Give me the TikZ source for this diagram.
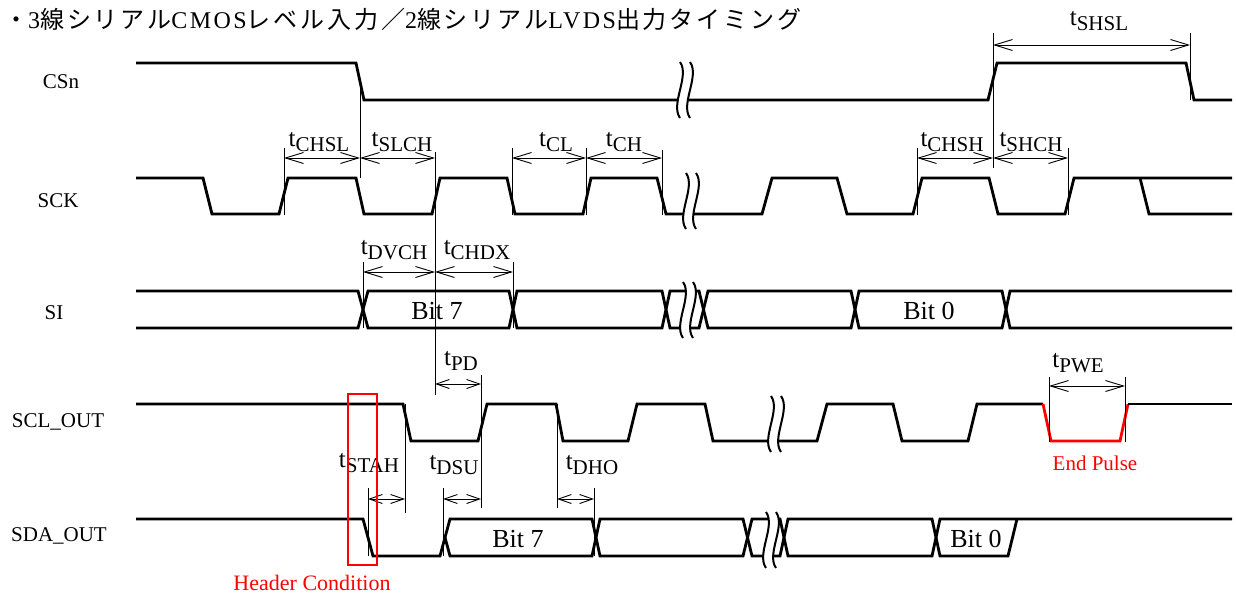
\documentclass[tikz,border=0pt]{standalone}
\usepackage{fontspec}
\setmainfont{Liberation Serif}
\newfontfamily\jpfont[LetterSpace=12]{Noto Sans CJK JP}
\newfontfamily\jplatin[LetterSpace=10]{Liberation Serif}
\usetikzlibrary{arrows.meta}
\tikzset{sig/.style={line width=2.8pt}}
\tikzset{ref/.style={line width=0.9pt}}
\tikzset{dim/.style={line width=0.9pt, {Straight Barb[length=18pt,width=11pt]}-{Straight Barb[length=18pt,width=11pt]}}}
\tikzset{sdim/.style={line width=0.9pt, {Straight Barb[length=13pt,width=9pt]}-{Straight Barb[length=13pt,width=9pt]}}}
\tikzset{lbl/.style={font=\fontsize{21}{25}\selectfont, anchor=base, inner sep=0pt}}
\tikzset{bit/.style={font=\fontsize{26}{30}\selectfont, anchor=base, inner sep=0pt}}
\tikzset{tlab/.style={anchor=base, inner sep=0pt}}
\tikzset{brk/.pic={
  \fill[white] (-6,-28) .. controls (4,-14) and (-16,14) .. (-6,28) -- (4,28) .. controls (-6,14) and (14,-14) .. (4,-28) -- cycle;
  \draw[line width=2pt] (-6,-28) .. controls (4,-14) and (-16,14) .. (-6,28);
  \draw[line width=2pt] (4,-28) .. controls (14,-14) and (-6,14) .. (4,28);
}}
\newcommand\tsub[1]{{\fontsize{25}{29}\selectfont t}\raisebox{-5pt}{\fontsize{21}{24}\selectfont #1}}

\begin{document}
\begin{tikzpicture}[x=1pt,y=-1pt]
  \useasboundingbox (0,0) rectangle (1236,597);

  \node[anchor=base west, inner sep=0pt, font=\fontsize{24}{28}\selectfont] (title) at (4,28)
    {\jpfont ・\jplatin 3\jpfont 線シリアル\jplatin CMOS\jpfont レベル入力／\jplatin 2\jpfont 線シリアル\jplatin LVDS\jpfont 出力タイミング};

  % signal names
  \node[lbl] (csn) at (61,88)  {CSn};
  \node[lbl] (sck) at (58,207) {SCK};
  \node[lbl] (si)  at (54,319) {SI};
  \node[lbl] (scl) at (58,427) {SCL\_OUT};
  \node[lbl] (sda) at (59,541) {SDA\_OUT};

  % waveforms
  \draw[sig] (136,63) -- (356,63) -- (364,100) -- (988,100) -- (997,63) -- (1186,63) -- (1194,100) -- (1232,100);
  \draw[sig] (136,178) -- (203,178) -- (212,214) -- (279,214) -- (288,178) -- (356,178) -- (364,214) -- (432,214)
    -- (440,178) -- (507,178) -- (515,214) -- (583,214) -- (591,178) -- (657,178) -- (666,214) -- (762,214)
    -- (772,178) -- (837,178) -- (847,214) -- (913,214) -- (922,178) -- (989,178) -- (998,214) -- (1065,214)
    -- (1074,178) -- (1232,178);
  \draw[sig] (1140,178) -- (1149,214) -- (1232,214);
  \draw[sig] (136,291) -- (358,291) -- (368,328) -- (509,328) -- (517,291) -- (662,291) -- (670,328) -- (699,328)
    -- (708,291) -- (851,291) -- (859,328) -- (1002,328) -- (1010,291) -- (1232,291);
  \draw[sig] (136,328) -- (358,328) -- (368,291) -- (509,291) -- (517,328) -- (662,328) -- (670,291) -- (699,291)
    -- (708,328) -- (851,328) -- (859,291) -- (1002,291) -- (1010,328) -- (1232,328);
  \draw[sig] (136,404) -- (403,404) -- (411,441) -- (478,441) -- (487,404) -- (556,404) -- (563,441) -- (628,441)
    -- (637,404) -- (705,404) -- (713,441) -- (817,441) -- (827,404) -- (893,404) -- (902,441) -- (968,441)
    -- (977,404) -- (1043,404);
  \draw[sig, red] (1043,404) -- (1051,441) -- (1120,441) -- (1128,404);
  \draw[sig] (1128,404) -- (1232,404);
  \draw[sig] (136,519) -- (363,519) -- (373,556) -- (440,556) -- (450,519) -- (592,519) -- (600,556) -- (743,556)
    -- (752,519) -- (780,519) -- (788,556) -- (932,556) -- (940,519) -- (1232,519);
  \draw[sig] (445,537.5) -- (450,556) -- (592,556) -- (600,519) -- (743,519) -- (752,556) -- (780,556)
    -- (788,519) -- (932,519) -- (940,556) -- (1008,556) -- (1017,519);

  % breaks
  \pic at (686,90)  {brk};
  \pic at (692,201) {brk};
  \pic at (689,310) {brk};
  \pic at (777,424) {brk};
  \pic at (772,540) {brk};

  % reference lines
  \foreach \x/\a/\b in {360/82/178, 435/152/395, 284/148/215, 512/148/215, 586/148/215, 662/150/215,
      917/148/215, 1068/148/215, 993/33/168, 1190/33/100, 363/262/328, 513/262/328, 481/375/508,
      405/404/513, 368/488/556, 443/488/556, 557/404/508, 594/488/556, 1049/377/442, 1125/377/442}
    \draw[ref] (\x,\a) -- (\x,\b);

  % timing arrows
  \draw[dim] (993,45) -- (1190,45);
  \draw[dim] (284,158) -- (360,158);
  \draw[dim] (360,158) -- (435,158);
  \draw[dim] (512,158) -- (586,158);
  \draw[dim] (586,158) -- (662,158);
  \draw[dim] (917,158) -- (993,158);
  \draw[dim] (993,158) -- (1068,158);
  \draw[dim] (363,272) -- (435,272);
  \draw[dim] (435,272) -- (513,272);
  \draw[sdim] (435,384) -- (481,384);
  \draw[dim] (1049,386) -- (1125,386);
  \draw[sdim] (368,499) -- (405,499);
  \draw[sdim] (443,499) -- (481,499);
  \draw[sdim] (557,499) -- (594,499);

  % timing labels
  \node[tlab] (shsl) at (1099,25)  {\tsub{SHSL}};
  \node[tlab] (chsl) at (319,146)  {\tsub{CHSL}};
  \node[tlab] (slch) at (402,146)  {\tsub{SLCH}};
  \node[tlab] (cl)   at (556,146)  {\tsub{CL}};
  \node[tlab] (ch)   at (624,146)  {\tsub{CH}};
  \node[tlab] (chsh) at (952,146)  {\tsub{CHSH}};
  \node[tlab] (shch) at (1031,146) {\tsub{SHCH}};
  \node[tlab] (dvch) at (394,254)  {\tsub{DVCH}};
  \node[tlab] (chdx) at (477,254)  {\tsub{CHDX}};
  \node[tlab] (pd)   at (461,365)  {\tsub{PD}};
  \node[tlab] (pwe)  at (1078,367) {\tsub{PWE}};
  \node[tlab] (stah) at (369,467)  {\tsub{STAH}};
  \node[tlab] (dsu)  at (454,469)  {\tsub{DSU}};
  \node[tlab] (dho)  at (592,469)  {\tsub{DHO}};

  % data labels
  \node[bit] (sib7)  at (437,319) {Bit 7};
  \node[bit] (sib0)  at (929,319) {Bit 0};
  \node[bit] (sdab7) at (518,547) {Bit 7};
  \node[bit] (sdab0) at (976,547) {Bit 0};

  % header / end pulse
  \draw[red, line width=1.2pt] (348,394) rectangle (377,565);
  \node[anchor=base, inner sep=0pt, red, font=\fontsize{22}{26}\selectfont] (hdr) at (312,590) {Header Condition};
  \node[anchor=base, inner sep=0pt, red, font=\fontsize{21}{25}\selectfont] (endp) at (1095,470) {End Pulse};
\end{tikzpicture}
\end{document}
